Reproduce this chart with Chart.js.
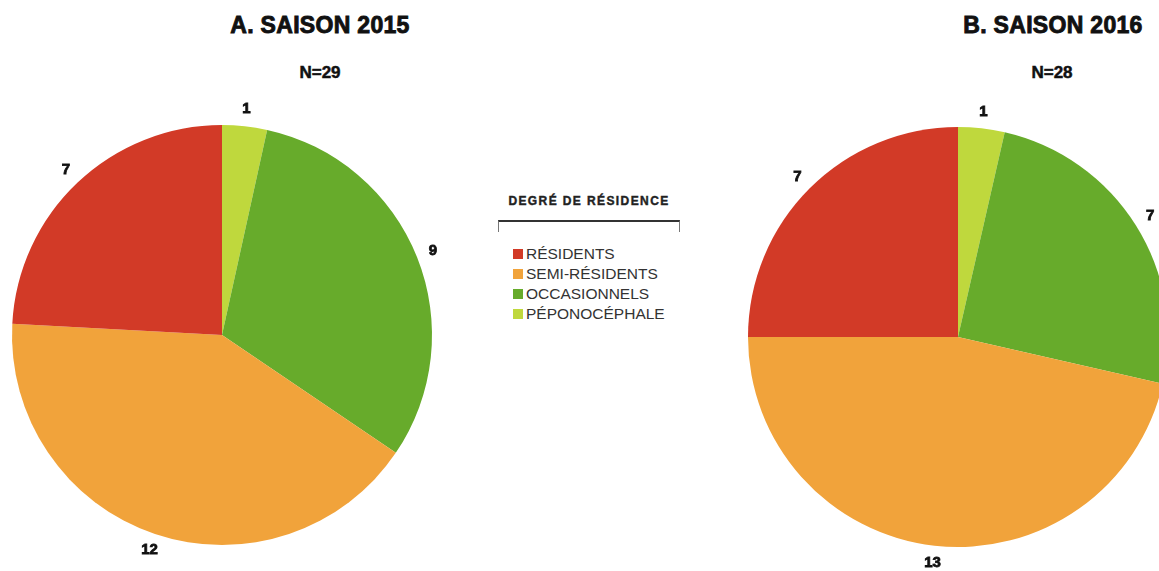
<!DOCTYPE html>
<html>
<head>
<meta charset="utf-8">
<script src="https://cdn.jsdelivr.net/npm/chart.js@4.4.0/dist/chart.umd.min.js"></script>
<style>
  html, body { margin: 0; padding: 0; background: #fff; }
  body { width: 1159px; height: 571px; position: relative; overflow: hidden; font-family: "Liberation Sans", Arial, sans-serif; }
  .title { position: absolute; font-weight: bold; font-size: 23px; color: #111; text-align: center; width: 300px; line-height: 1; letter-spacing: 0.3px; -webkit-text-stroke: 0.9px #111; }
  .n { position: absolute; font-weight: bold; font-size: 17px; color: #111; text-align: center; width: 200px; line-height: 1; -webkit-text-stroke: 0.5px #111; }
  canvas { position: absolute; }
  #legend { position: absolute; left: 498px; top: 194px; width: 182px; }
  #legend .lt { font-weight: bold; font-size: 12px; letter-spacing: 1.4px; color: #222; text-align: center; width: 182px; -webkit-text-stroke: 0.4px #222; }
  #legend .br { position: relative; margin-top: 12px; height: 10px; border-top: 2px solid #333; border-left: 1px solid #777; border-right: 1px solid #777; }
  #legend .items { margin-top: 12px; margin-left: 15px; }
  #legend .it { height: 20px; line-height: 20px; font-size: 15.5px; color: #333; white-space: nowrap; }
  #legend .sw { display: inline-block; width: 10px; height: 10px; margin-right: 3px; vertical-align: 0px; }
</style>
</head>
<body>
<div class="title" style="left:170px; top:14px;">A. SAISON 2015</div>
<div class="n" style="left:220px; top:64px;">N=29</div>
<div class="title" style="left:903px; top:14px;">B. SAISON 2016</div>
<div class="n" style="left:952px; top:64px;">N=28</div>

<div id="legend">
  <div class="lt">DEGRÉ DE RÉSIDENCE</div>
  <div class="br"></div>
  <div class="items" id="items"></div>
</div>

<canvas id="c1" width="500" height="500" style="left:-28px; top:85px; width:500px; height:500px;"></canvas>
<canvas id="c2" width="500" height="500" style="left:708px; top:87px; width:500px; height:500px;"></canvas>

<script>
// Data (clockwise from 12 o'clock)
const categories = ["PÉPONOCÉPHALE", "OCCASIONNELS", "SEMI-RÉSIDENTS", "RÉSIDENTS"];
const values2015 = [1, 9, 12, 7];
const values2016 = [1, 7, 13, 7];
const colors = ["#bfd83d", "#67ab2b", "#f1a33b", "#d23a27"];
const legendOrder = ["RÉSIDENTS", "SEMI-RÉSIDENTS", "OCCASIONNELS", "PÉPONOCÉPHALE"];

// HTML legend built from categories
const items = document.getElementById('items');
legendOrder.forEach(name => {
  const idx = categories.indexOf(name);
  const d = document.createElement('div');
  d.className = 'it';
  d.innerHTML = '<span class="sw" style="background:' + colors[idx] + '"></span>' + name;
  items.appendChild(d);
});

const outsideLabels = {
  id: 'outsideLabels',
  afterDatasetsDraw(chart) {
    const ctx = chart.ctx;
    const meta = chart.getDatasetMeta(0);
    ctx.save();
    ctx.font = 'bold 15px "Liberation Sans", Arial, sans-serif';
    ctx.fillStyle = '#111';
    ctx.strokeStyle = '#111';
    ctx.lineWidth = 0.8;
    ctx.textAlign = 'center';
    ctx.textBaseline = 'middle';
    meta.data.forEach((arc, i) => {
      const p = arc.getProps(['x', 'y', 'startAngle', 'endAngle', 'outerRadius'], true);
      const a = (p.startAngle + p.endAngle) / 2;
      const r = p.outerRadius + 17;
      const t = String(chart.data.datasets[0].data[i]);
      const x = p.x + Math.cos(a) * r, y = p.y + Math.sin(a) * r;
      ctx.fillText(t, x, y);
      ctx.strokeText(t, x, y);
    });
    ctx.restore();
  }
};

function makePie(id, vals) {
  return new Chart(document.getElementById(id), {
    type: 'pie',
    data: {
      labels: categories,
      datasets: [{ data: vals, backgroundColor: colors, borderWidth: 0 }]
    },
    options: {
      responsive: false,
      animation: false,
      layout: { padding: 40 },
      plugins: { legend: { display: false }, tooltip: { enabled: false }, title: { display: false } }
    },
    plugins: [outsideLabels]
  });
}
makePie('c1', values2015);
makePie('c2', values2016);
</script>
</body>
</html>
